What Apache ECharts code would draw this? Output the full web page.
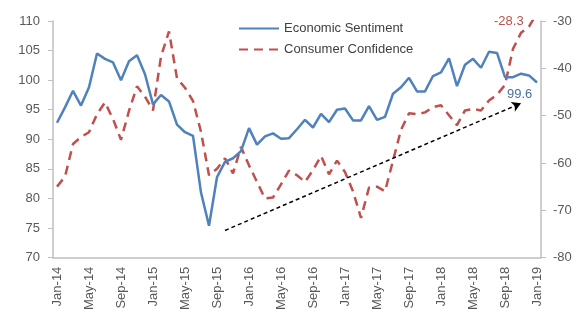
<!DOCTYPE html>
<html>
<head>
<meta charset="utf-8">
<script src="https://cdn.jsdelivr.net/npm/echarts@6/dist/echarts.min.js"></script>
<style>
  html, body { margin: 0; padding: 0; background: #fff; }
  #chart { width: 576px; height: 313px; }
</style>
</head>
<body>
<div id="chart"></div>
<script>
// months Jan-14 .. Jan-19
var months = [];
var monNames = ['Jan','Feb','Mar','Apr','May','Jun','Jul','Aug','Sep','Oct','Nov','Dec'];
for (var y = 14; y <= 19; y++) {
  for (var m = 0; m < 12; m++) {
    if (y === 19 && m > 0) break;
    months.push(monNames[m] + '-' + y);
  }
}

var sentiment = [
  92.8, 95.4, 98.2, 95.7, 98.8, 104.5, 103.6, 103.0, 100.0, 103.2, 104.2, 101.0,
  95.9, 97.5, 96.4, 92.5, 91.2, 90.6, 81.0, 75.4, 83.6, 86.2, 86.8, 88.0,
  91.9, 89.1, 90.5, 91.0, 90.1, 90.2, 91.7, 93.3, 92.0, 94.3, 92.9, 95.0,
  95.2, 93.2, 93.2, 95.6, 93.3, 93.8, 97.7, 98.8, 100.4, 98.1, 98.1, 100.7,
  101.3, 103.7, 99.0, 102.6, 103.6, 102.1, 104.8, 104.6, 100.5, 100.5, 101.1, 100.8, 99.6
];

var confidence = [
  -65.0, -62.9, -56.0, -54.5, -53.5, -49.7, -47.2, -50.7, -55.1, -49.0, -43.8, -46.0,
  -48.9, -37.5, -32.2, -42.1, -44.1, -46.9, -53.4, -62.6, -61.2, -59.0, -62.2, -56.6,
  -60.5, -64.0, -67.5, -67.3, -64.5, -61.6, -62.6, -64.0, -61.5, -58.5, -62.4, -59.5,
  -61.9, -66.0, -71.6, -65.2, -65.0, -66.0, -59.5, -53.0, -49.5, -49.7, -49.3, -48.2,
  -47.8, -49.9, -52.0, -48.9, -48.6, -48.9, -46.8, -45.6, -43.5, -35.9, -32.5, -31.2, -28.3
];

// trend arrow (left axis)
var trendFrom = [21, 74.6];
var trendTo = [58, 96.1];

var axisGray = '#bfbfbf';
var labelGray = '#595959';
var font = 'Liberation Sans, Arial, sans-serif';

var chart = echarts.init(document.getElementById('chart'));
chart.setOption({
  animation: false,
  textStyle: { fontFamily: font },
  grid: { left: 53, right: 35, top: 21, bottom: 48 },
  legend: {
    orient: 'vertical',
    left: 233,
    top: 17,
    itemWidth: 40,
    itemHeight: 14,
    itemGap: 8,
    itemStyle: { opacity: 0, color: 'rgba(0,0,0,0)', borderWidth: 0 },
    textStyle: { fontSize: 13, color: '#404040', fontFamily: font },
    data: ['Economic Sentiment', 'Consumer Confidence']
  },
  xAxis: {
    type: 'category',
    data: months,
    boundaryGap: true,
    axisLine: { lineStyle: { color: axisGray, width: 1.5 } },
    axisTick: { interval: 3, length: 5, lineStyle: { color: axisGray } },
    axisLabel: { interval: 3, rotate: 90, margin: 9, fontSize: 13, color: labelGray, fontFamily: font },
    splitLine: { show: false }
  },
  yAxis: [{
    type: 'value',
    min: 70, max: 110, interval: 5,
    axisLine: { show: true, lineStyle: { color: axisGray, width: 1.5 } },
    axisTick: { show: true, length: 5, lineStyle: { color: axisGray } },
    axisLabel: { margin: 13, fontSize: 13, color: labelGray, fontFamily: font },
    splitLine: { show: false }
  }, {
    type: 'value',
    min: -80, max: -30, interval: 10,
    position: 'right',
    axisLine: { show: true, lineStyle: { color: axisGray, width: 1.5 } },
    axisTick: { show: true, length: 5, lineStyle: { color: axisGray } },
    axisLabel: { margin: 12, fontSize: 13, color: labelGray, fontFamily: font },
    splitLine: { show: false }
  }],
  series: [{
    name: 'Economic Sentiment',
    type: 'line',
    yAxisIndex: 0,
    data: sentiment,
    symbol: 'none',
    lineStyle: { color: '#4f81bd', width: 2.5 },
    itemStyle: { color: '#4f81bd' },
    z: 3,
    markLine: {
      silent: true,
      symbol: ['none', 'arrow'],
      symbolSize: [8, 9],
      label: { show: false },
      lineStyle: { color: '#000', type: [4, 3], width: 1.5 },
      data: [[
        { coord: [months[trendFrom[0]], trendFrom[1]] },
        { coord: [months[trendTo[0]], trendTo[1]] }
      ]]
    }
  }, {
    name: 'Consumer Confidence',
    type: 'line',
    yAxisIndex: 1,
    data: confidence,
    symbol: 'none',
    clip: true,
    lineStyle: { color: '#c0504d', width: 2.5, type: [9, 6] },
    itemStyle: { color: '#c0504d' },
    z: 2
  }],
  graphic: [{
    type: 'text', left: 507, top: 88,
    style: { text: String(sentiment[sentiment.length - 1]), fill: '#4a6fa0', font: '13px ' + font }
  }, {
    type: 'text', left: 494, top: 15,
    style: { text: String(confidence[confidence.length - 1]), fill: '#c0504d', font: '13px ' + font }
  }]
});
</script>
</body>
</html>
